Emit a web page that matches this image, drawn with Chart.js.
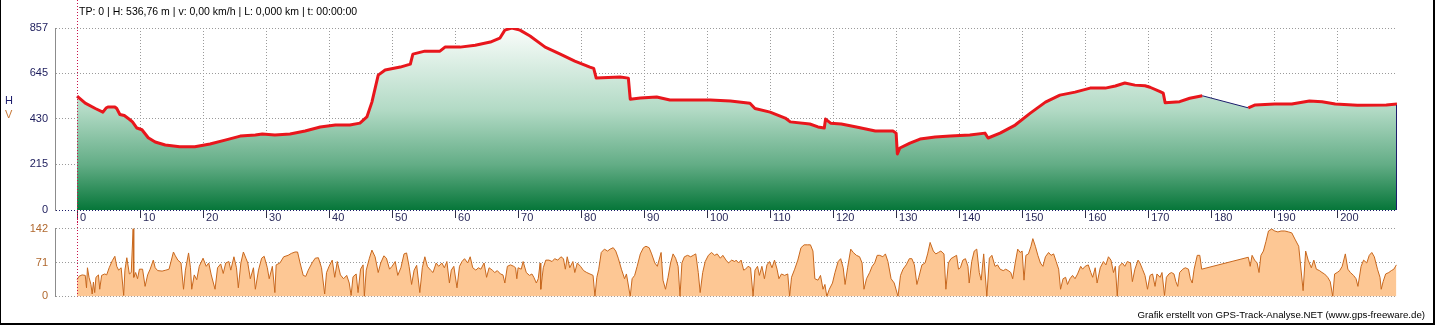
<!DOCTYPE html>
<html>
<head>
<meta charset="utf-8">
<script src="https://cdn.jsdelivr.net/npm/chart.js@4"></script>
<style>
  body { margin: 0; background: #fff; }
  #frame { position: relative; width: 1435px; height: 325px; background: #fff; overflow: hidden;
           font-family: "Liberation Sans", Arial, sans-serif; }
  #edge { position: absolute; left: 0; top: 0; width: 1435px; height: 325px; box-sizing: border-box;
          border-left: 1px solid #000; border-right: 2px solid #000; border-bottom: 2px solid #000; pointer-events: none; }
  canvas { position: absolute; left: 0; }
  .txt { position: absolute; white-space: nowrap; }
</style>
</head>
<body>
<div id="frame">
  <canvas id="elev" width="1435" height="225" style="top:0"></canvas>
  <canvas id="speed" width="1435" height="95" style="top:215px"></canvas>
  <div class="txt" style="left:79px; top:5px; font-size:10.5px; color:#000;">TP: 0 | H: 536,76 m | v: 0,00 km/h | L: 0,000 km | t: 00:00:00</div>
  <div class="txt" style="left:5px; top:94px; font-size:11px; color:#1c1c6c;">H</div>
  <div class="txt" style="left:5px; top:108px; font-size:11px; color:#c87a3a;">V</div>
  <div class="txt" style="right:10px; top:309px; font-size:9.7px; color:#000;">Grafik erstellt von GPS-Track-Analyse.NET (www.gps-freeware.de)</div>
  <div id="edge"></div>
</div>
<script>
// distance ticks (km) and value ticks
const kmTicks = [0, 10, 20, 30, 40, 50, 60, 70, 80, 90, 100, 110, 120, 130, 140, 150, 160, 170, 180, 190, 200];
const elevTicks = [0, 215, 430, 645, 857];
const speedTicks = [0, 71, 142];

// height profile [km, m]
const elevTrack = [
  [0, 536], [1.3, 503], [2.9, 478], [4.1, 461], [4.6, 480], [4.9, 485], [6.0, 485], [6.3, 478], [6.8, 450],
  [7.5, 445], [8.4, 425], [8.8, 415], [9.5, 386], [10.3, 378], [11.3, 340], [12.4, 320], [14.0, 306],
  [16.3, 298], [18.7, 298], [21.1, 311], [23.5, 329], [25.9, 348], [28.3, 353], [29.4, 358], [31.4, 353],
  [33.8, 358], [36.2, 372], [38.6, 391], [41.0, 400], [43.3, 400], [44.9, 409], [46.0, 438], [46.8, 508],
  [47.8, 635], [48.9, 659], [51.3, 673], [52.9, 687], [53.3, 734], [55.2, 748], [57.6, 748], [58.4, 767],
  [60.8, 767], [63.2, 776], [65.6, 791], [67.1, 809], [67.9, 847], [69.0, 857], [70.3, 847], [71.9, 819],
  [74.3, 767], [76.7, 734], [79.0, 701], [81.4, 673], [82.0, 667], [82.4, 621], [86.2, 626], [87.5, 621],
  [87.8, 522], [89.4, 527], [92.0, 532], [94.1, 518], [97.3, 518], [100.5, 518], [103.7, 513], [106.8, 503],
  [107.6, 478], [110.0, 461], [112.4, 433], [113.2, 415], [116.3, 405], [117.6, 391], [118.6, 386],
  [118.8, 428], [119.6, 409], [121.3, 405], [123.7, 391], [126.7, 372], [129.5, 372], [130.0, 362],
  [130.2, 264], [130.6, 292], [132.2, 315], [133.8, 334], [136.2, 344], [138.6, 348], [141.7, 353],
  [144.1, 362], [144.6, 339], [146.5, 362], [148.9, 400], [151.3, 456], [153.7, 508], [156.0, 541],
  [158.4, 555], [160.8, 574], [163.2, 574], [164.8, 584], [166.3, 598], [167.9, 588], [169.5, 585],
  [170.3, 578], [171.9, 557], [172.4, 550], [172.7, 505], [175.0, 510], [176.6, 526], [178.6, 538],
  [185.9, 481], [187.0, 495], [190.1, 499], [192.8, 499], [195.6, 513], [197.6, 510], [199.7, 499],
  [203.2, 493], [207.8, 494], [209.5, 499]
];
const gapStartKm = 178.6;

// speed profile [km, km/h]
const speedTrack = [
  [0, 35], [0.3, 42], [0.8, 45], [1.3, 44], [1.5, 18], [1.65, 60], [1.9, 40], [2.2, 25], [2.4, 5], [2.6, 30],
  [2.8, 8], [3.0, 40], [3.4, 45], [3.6, 15], [3.9, 44], [4.4, 47], [4.7, 45], [5.1, 60], [5.6, 75], [6.0, 84],
  [6.3, 63], [6.6, 55], [7.0, 60], [7.4, 2], [7.6, 55], [7.9, 81], [8.3, 47], [8.6, 50], [8.9, 142], [9.0, 40],
  [9.3, 50], [9.6, 37], [9.9, 57], [10.4, 57], [10.8, 21], [11.2, 45], [11.6, 57], [12.1, 76], [12.4, 60],
  [12.8, 54], [13.5, 53], [14.1, 55], [14.6, 57], [15.3, 93], [15.6, 85], [16.0, 76], [16.5, 70], [16.9, 15],
  [17.2, 55], [17.7, 91], [18.0, 60], [18.2, 15], [18.6, 45], [19.0, 35], [19.4, 63], [20.0, 80], [20.5, 63],
  [20.9, 70], [21.3, 45], [21.9, 15], [22.3, 60], [22.8, 68], [23.2, 48], [23.6, 70], [24.1, 73], [24.4, 55],
  [24.9, 83], [25.3, 60], [25.6, 18], [26.0, 70], [26.4, 93], [26.8, 80], [27.1, 70], [27.5, 37], [28.0, 60],
  [28.3, 15], [28.8, 55], [29.3, 80], [29.7, 84], [30.2, 60], [30.5, 37], [31.0, 63], [31.4, 8], [31.6, 66],
  [32.2, 70], [32.8, 83], [33.5, 86], [34.0, 90], [34.6, 93], [35.0, 93], [35.4, 70], [35.9, 44], [36.3, 42],
  [36.7, 55], [37.3, 70], [37.8, 80], [38.3, 81], [38.8, 60], [39.3, 5], [39.6, 50], [40.0, 63], [40.5, 76],
  [40.9, 40], [41.3, 73], [41.8, 45], [42.3, 37], [42.8, 44], [43.2, 28], [43.5, 2], [43.8, 41], [44.3, 47],
  [44.6, 8], [45.0, 57], [45.4, 66], [45.6, 0], [45.9, 55], [46.4, 80], [46.8, 97], [47.3, 83], [47.8, 50],
  [48.2, 70], [48.7, 85], [49.1, 80], [49.6, 57], [50.0, 63], [50.5, 73], [50.9, 44], [51.4, 60], [51.9, 89],
  [52.3, 91], [52.7, 63], [53.1, 25], [53.5, 55], [53.9, 65], [54.4, 8], [54.8, 60], [55.2, 83], [55.6, 63],
  [56.1, 55], [56.5, 50], [57.0, 70], [57.4, 63], [57.9, 70], [58.3, 60], [58.7, 73], [59.1, 28], [59.4, 55],
  [59.8, 63], [60.3, 18], [60.7, 63], [61.1, 73], [61.5, 79], [62.0, 70], [62.4, 83], [62.8, 60], [63.3, 55],
  [63.7, 60], [64.1, 57], [64.6, 70], [65.0, 40], [65.4, 60], [65.9, 55], [66.3, 50], [66.7, 54], [67.2, 47],
  [67.6, 45], [67.9, 28], [68.3, 63], [68.8, 66], [69.3, 63], [69.6, 60], [69.8, 37], [70.0, 60], [70.5, 57],
  [70.8, 73], [71.3, 50], [71.8, 44], [72.2, 47], [72.5, 40], [72.9, 28], [73.2, 37], [73.5, 70], [73.6, 15],
  [74.0, 60], [74.4, 76], [74.9, 76], [75.4, 73], [75.8, 79], [76.3, 76], [76.8, 83], [77.2, 79], [77.5, 57],
  [77.8, 83], [78.2, 60], [78.7, 73], [79.0, 50], [79.4, 70], [79.9, 63], [80.4, 54], [80.9, 50], [81.4, 47],
  [81.9, 44], [82.2, 0], [82.5, 40], [82.8, 57], [83.2, 92], [83.7, 99], [84.2, 95], [84.6, 99], [85.1, 102],
  [85.5, 95], [85.9, 80], [86.4, 57], [86.9, 37], [87.2, 47], [87.8, 0], [88.1, 37], [88.5, 44], [88.9, 63],
  [89.4, 89], [89.9, 102], [90.3, 105], [90.8, 102], [91.2, 89], [91.7, 70], [92.1, 63], [92.7, 92], [93.0, 34],
  [93.4, 15], [93.8, 40], [94.2, 70], [94.6, 89], [95.0, 80], [95.4, 63], [95.7, 0], [96.0, 70], [96.4, 83],
  [96.9, 86], [97.4, 83], [97.8, 86], [98.2, 89], [98.6, 50], [98.9, 8], [99.3, 50], [99.7, 73], [100.2, 86],
  [100.7, 92], [101.2, 86], [101.6, 89], [102.1, 80], [102.5, 86], [103.0, 76], [103.4, 70], [103.9, 76],
  [104.4, 73], [104.6, 76], [105.0, 70], [105.4, 76], [105.8, 55], [106.1, 57], [106.5, 63], [106.9, 60],
  [107.3, 0], [107.6, 55], [108.0, 63], [108.3, 44], [108.7, 63], [109.1, 37], [109.5, 66], [109.9, 73],
  [110.3, 60], [110.7, 76], [111.1, 57], [111.4, 37], [111.8, 47], [112.3, 44], [112.8, 47], [113.1, 0],
  [113.4, 40], [113.9, 57], [114.4, 76], [114.9, 102], [115.4, 108], [115.9, 108], [116.4, 108], [116.8, 95],
  [117.1, 37], [117.6, 34], [118.0, 44], [118.4, 15], [118.7, 25], [119.0, 0], [119.4, 15], [119.9, 28],
  [120.3, 50], [120.8, 73], [121.2, 79], [121.6, 60], [121.9, 25], [122.3, 60], [122.8, 99], [123.2, 92],
  [123.7, 86], [124.2, 83], [124.6, 70], [124.9, 15], [125.3, 37], [125.8, 50], [126.2, 63], [126.6, 70],
  [127.0, 86], [127.4, 86], [127.9, 83], [128.3, 89], [128.7, 73], [129.2, 37], [129.7, 28], [130.3, 0],
  [130.7, 44], [131.1, 57], [131.6, 66], [132.1, 79], [132.5, 79], [132.9, 66], [133.3, 25], [133.6, 40],
  [134.1, 66], [134.6, 70], [135.0, 89], [135.4, 113], [135.9, 95], [136.3, 89], [136.7, 92], [137.1, 95],
  [137.6, 89], [137.9, 15], [138.3, 70], [138.7, 79], [139.2, 83], [139.6, 86], [139.9, 57], [140.2, 60],
  [140.6, 76], [141.0, 79], [141.4, 63], [141.6, 28], [142.0, 73], [142.4, 95], [142.8, 99], [143.2, 50],
  [143.5, 34], [143.9, 89], [144.4, 0], [144.8, 80], [145.2, 86], [145.7, 63], [146.1, 66], [146.5, 57],
  [147.0, 54], [147.4, 57], [147.8, 54], [148.2, 50], [148.5, 37], [148.9, 70], [149.3, 99], [149.7, 92],
  [150.0, 95], [150.3, 34], [150.6, 86], [151.0, 89], [151.4, 105], [151.7, 121], [152.1, 105], [152.5, 86],
  [152.9, 70], [153.3, 63], [153.7, 83], [154.2, 92], [154.6, 86], [155.0, 89], [155.4, 73], [155.8, 57],
  [156.1, 15], [156.5, 37], [156.9, 40], [157.2, 25], [157.6, 37], [158.0, 44], [158.4, 37], [158.8, 47],
  [159.3, 63], [159.6, 57], [160.0, 63], [160.5, 66], [160.9, 50], [161.2, 40], [161.6, 60], [161.9, 28],
  [162.4, 60], [162.9, 73], [163.3, 66], [163.7, 83], [164.1, 76], [164.5, 50], [164.8, 63], [165.1, 0],
  [165.4, 63], [165.9, 70], [166.3, 63], [166.7, 73], [167.2, 70], [167.5, 31], [167.9, 57], [168.4, 76],
  [168.7, 70], [169.1, 57], [169.5, 44], [169.9, 15], [170.3, 44], [170.7, 47], [171.1, 21], [171.4, 47],
  [171.9, 40], [172.2, 50], [172.6, 2], [172.9, 40], [173.3, 47], [173.7, 50], [174.1, 47], [174.4, 31],
  [174.7, 21], [175.0, 50], [175.5, 57], [175.9, 60], [176.4, 57], [176.7, 37], [177.0, 28], [177.3, 57],
  [177.8, 86], [178.2, 86], [178.5, 57], [185.9, 82], [186.2, 63], [186.5, 86], [186.9, 76], [187.3, 70],
  [187.6, 50], [187.9, 86], [188.3, 95], [188.7, 115], [189.1, 137], [189.6, 141], [190.1, 137], [190.6, 135],
  [191.1, 137], [191.7, 137], [192.3, 135], [192.8, 133], [193.3, 120], [193.9, 105], [194.6, 12], [195.0, 95],
  [195.4, 76], [195.9, 60], [196.3, 76], [196.7, 57], [197.2, 54], [197.6, 50], [198.0, 47], [198.5, 40],
  [198.9, 31], [199.3, 0], [199.6, 47], [200.0, 50], [200.4, 54], [200.8, 63], [201.3, 89], [201.7, 57],
  [202.1, 50], [202.6, 44], [203.0, 37], [203.3, 21], [203.8, 63], [204.2, 76], [204.7, 70], [205.1, 86],
  [205.5, 92], [205.9, 83], [206.4, 57], [206.8, 40], [207.0, 15], [207.3, 31], [207.7, 47], [208.2, 50],
  [208.6, 54], [209.0, 57], [209.4, 66]
];

Chart.defaults.font.family = "'Liberation Sans', Arial, sans-serif";
Chart.defaults.font.size = 11;
Chart.defaults.animation = false;

const kmMin = -3.5, kmMax = 209.5;
const lineRed = '#e8161c', navy = '#1c1c6c';

// red dotted cursor at km 0 + navy closing line at the end of the profile
const markers = {
  id: 'markers',
  afterDatasetsDraw(chart, args, opts) {
    const c = chart.ctx;
    if (opts.endLine) {
      const meta = chart.getDatasetMeta(0);
      const last = meta.data[meta.data.length - 1];
      c.save();
      c.strokeStyle = navy;
      c.lineWidth = 1;
      c.beginPath();
      c.moveTo(Math.round(last.x) - 0.5, last.y + 1);
      c.lineTo(Math.round(last.x) - 0.5, chart.chartArea.bottom);
      c.stroke();
      c.restore();
    }
    const px = Math.round(chart.scales.x.getPixelForValue(0)) + 0.5;
    c.save();
    c.strokeStyle = '#c8104a';
    c.lineWidth = 1;
    c.setLineDash([1, 2]);
    c.beginPath();
    c.moveTo(px, 0);
    c.lineTo(px, opts.toArea ? chart.chartArea.bottom : chart.height);
    c.stroke();
    c.restore();
  }
};

const setTicks = list => scale => { scale.ticks = list.map(v => ({ value: v })); };
const isGap = c => c.p0.parsed.x === gapStartKm;

new Chart(document.getElementById('elev'), {
  type: 'line',
  data: {
    datasets: [{
      // profile line, thin navy where the track has a gap (drawn on top)
      order: 0,
      data: elevTrack.map(p => ({ x: p[0], y: p[1] })),
      borderColor: lineRed,
      borderWidth: 3,
      borderJoinStyle: 'round',
      pointRadius: 0,
      fill: false,
      segment: {
        borderColor: c => isGap(c) ? navy : lineRed,
        borderWidth: c => isGap(c) ? 1 : 3
      }
    }, {
      // area only (drawn below)
      order: 1,
      data: elevTrack.map(p => ({ x: p[0], y: p[1] })),
      borderWidth: 0,
      pointRadius: 0,
      fill: 'origin',
      backgroundColor: ctx => {
        const a = ctx.chart.chartArea;
        if (!a) return 'rgba(0,0,0,0)';
        const g = ctx.chart.ctx.createLinearGradient(0, a.top, 0, a.bottom);
        g.addColorStop(0, '#fafdfb');
        g.addColorStop(0.45, '#b2dac5');
        g.addColorStop(0.75, '#63ad86');
        g.addColorStop(1, '#067639');
        return g;
      }
    }]
  },
  options: {
    responsive: false,
    layout: { padding: { top: 28, right: 38, bottom: 0, left: 0 } },
    plugins: { legend: { display: false }, tooltip: { enabled: false }, markers: { endLine: true } },
    scales: {
      x: {
        type: 'linear', min: kmMin, max: kmMax,
        afterBuildTicks: setTicks(kmTicks),
        afterFit: s => { s.height = 15; },
        grid: {
          color: c => (c.tick && c.tick.value === 0) ? 'rgba(0,0,0,0)' : '#9a9a9a',
          tickColor: '#303048', tickLength: 8, tickWidth: 1
        },
        border: { display: false, dash: [1, 2] },
        ticks: { color: '#2a2a5a', align: 'start', labelOffset: 3, padding: -7, autoSkip: false, maxRotation: 0 }
      },
      y: {
        min: 0, max: 857,
        afterBuildTicks: setTicks(elevTicks),
        afterFit: s => { s.width = 55; },
        grid: { color: c => (c.tick && c.tick.value === 0) ? navy : '#9a9a9a', drawTicks: false },
        border: { color: '#8c8c8c', width: 1, dash: [1, 2] },
        ticks: { color: '#1c1c5c', padding: 7 }
      }
    }
  },
  plugins: [markers]
});

new Chart(document.getElementById('speed'), {
  type: 'line',
  data: {
    datasets: [{
      data: speedTrack.map(p => ({ x: p[0], y: p[1] })),
      borderColor: '#c8681e',
      borderWidth: 1,
      pointRadius: 0,
      fill: 'origin',
      backgroundColor: '#fdc794'
    }]
  },
  options: {
    responsive: false,
    layout: { padding: { top: 10, right: 38, bottom: 10, left: 0 } },
    plugins: { legend: { display: false }, tooltip: { enabled: false }, markers: { toArea: true } },
    scales: {
      x: { type: 'linear', min: kmMin, max: kmMax, display: false },
      y: {
        min: 0, max: 142,
        afterBuildTicks: setTicks(speedTicks),
        afterFit: s => { s.width = 55; },
        grid: { color: '#9a9a9a', drawTicks: false },
        border: { color: '#8c8c8c', width: 1, dash: [1, 2] },
        ticks: { color: '#b0682e', padding: 7 }
      }
    }
  },
  plugins: [markers]
});
</script>
</body>
</html>
